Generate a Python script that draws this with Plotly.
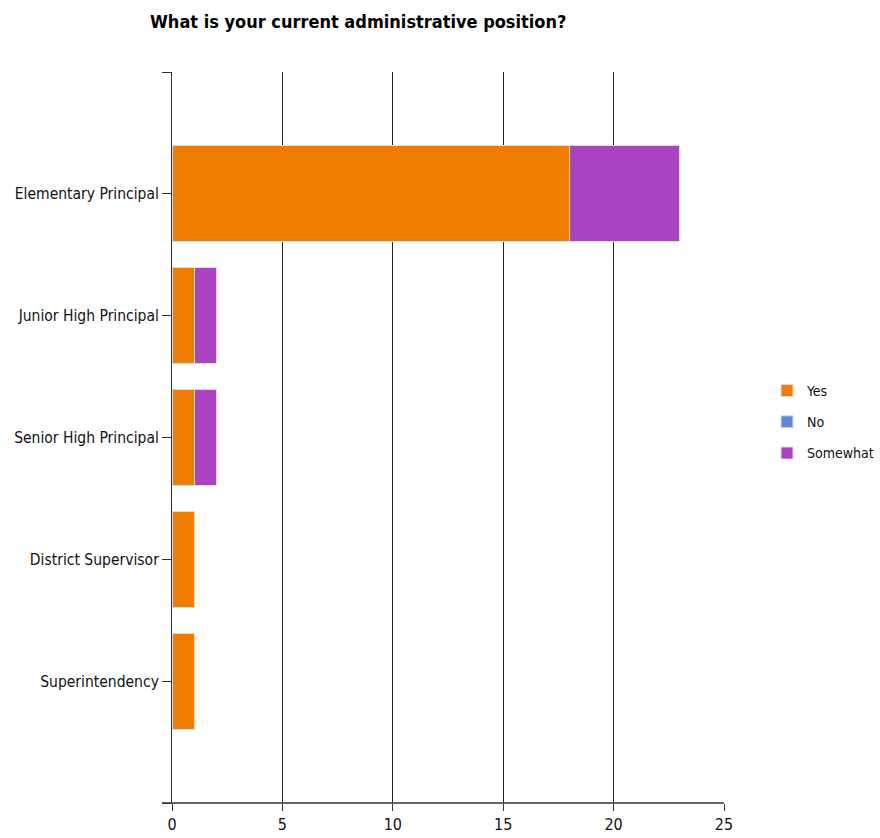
import plotly.graph_objects as go

# Survey responses by administrative position
categories = [
    "Elementary Principal",
    "Junior High Principal",
    "Senior High Principal",
    "District Supervisor",
    "Superintendency",
]
yes_counts = [18, 1, 1, 1, 1]
no_counts = [0, 0, 0, 0, 0]
somewhat_counts = [5, 1, 1, 0, 0]
x_ticks = [0, 5, 10, 15, 20, 25]

series = [
    ("Yes", yes_counts, "#F07C00"),
    ("No", no_counts, "#5A8AD8"),
    ("Somewhat", somewhat_counts, "#AA44C2"),
]

FONT = "Liberation Sans Narrow, Arial Narrow, DejaVu Sans Condensed, sans-serif"

# plot-area geometry in pixels
PLOT_L, PLOT_R, PLOT_T, PLOT_B = 172, 724, 72, 803
PLOT_W = PLOT_R - PLOT_L
PLOT_H = PLOT_B - PLOT_T

positions = list(range(len(categories)))

fig = go.Figure()
for name, values, color in series:
    fig.add_trace(go.Bar(
        name=name,
        y=positions,
        x=values,
        orientation="h",
        width=0.79,
        legendgroup=name,
        marker=dict(color=color, line=dict(color="#DDDDDD", width=1)),
        hovertemplate="%{x}<extra>" + name + "</extra>",
    ))

# tick positions include the band edges so the axis shows end ticks
y_tickvals = [-1] + positions + [len(categories)]
y_ticktext = [""] + categories + [""]

fig.update_layout(
    width=880,
    height=838,
    barmode="stack",
    paper_bgcolor="white",
    plot_bgcolor="white",
    margin=dict(l=PLOT_L, r=880 - PLOT_R, t=PLOT_T, b=838 - PLOT_B, autoexpand=False),
    font=dict(family=FONT, size=15, color="#111111"),
    title=dict(
        text="<b>What is your current administrative position?</b>",
        x=150 / 880,
        xanchor="left",
        y=1 - 22 / 838,
        yanchor="middle",
        font=dict(family=FONT, size=18, color="#000000"),
    ),
    xaxis=dict(
        range=[0, 25],
        tickvals=x_ticks,
        showgrid=True,
        gridcolor="#222222",
        gridwidth=1,
        zeroline=False,
        showline=False,
        ticks="outside",
        ticklen=7,
        tickcolor="#333333",
        tickfont=dict(family=FONT, size=16, color="#111111"),
        automargin=False,
        fixedrange=True,
    ),
    yaxis=dict(
        range=[len(categories), -1],
        tickvals=y_tickvals,
        ticktext=y_ticktext,
        showgrid=False,
        zeroline=False,
        showline=True,
        linecolor="#333333",
        linewidth=1,
        ticks="outside",
        ticklen=9,
        tickcolor="#333333",
        tickfont=dict(family=FONT, size=15.5, color="#111111"),
        automargin=False,
        fixedrange=True,
    ),
    legend=dict(
        x=(767 - PLOT_L) / PLOT_W,
        xanchor="left",
        y=(PLOT_B - 422) / PLOT_H,
        yanchor="middle",
        tracegroupgap=10,
        itemwidth=30,
        font=dict(family=FONT, size=14, color="#111111"),
        bgcolor="rgba(0,0,0,0)",
    ),
    showlegend=True,
)

# x-axis baseline extends slightly left of the plot area
fig.add_shape(
    type="line", xref="paper", yref="paper",
    x0=-10 / PLOT_W, x1=1, y0=0, y1=0,
    line=dict(color="#333333", width=1.5),
)

fig.write_html("out.html")
